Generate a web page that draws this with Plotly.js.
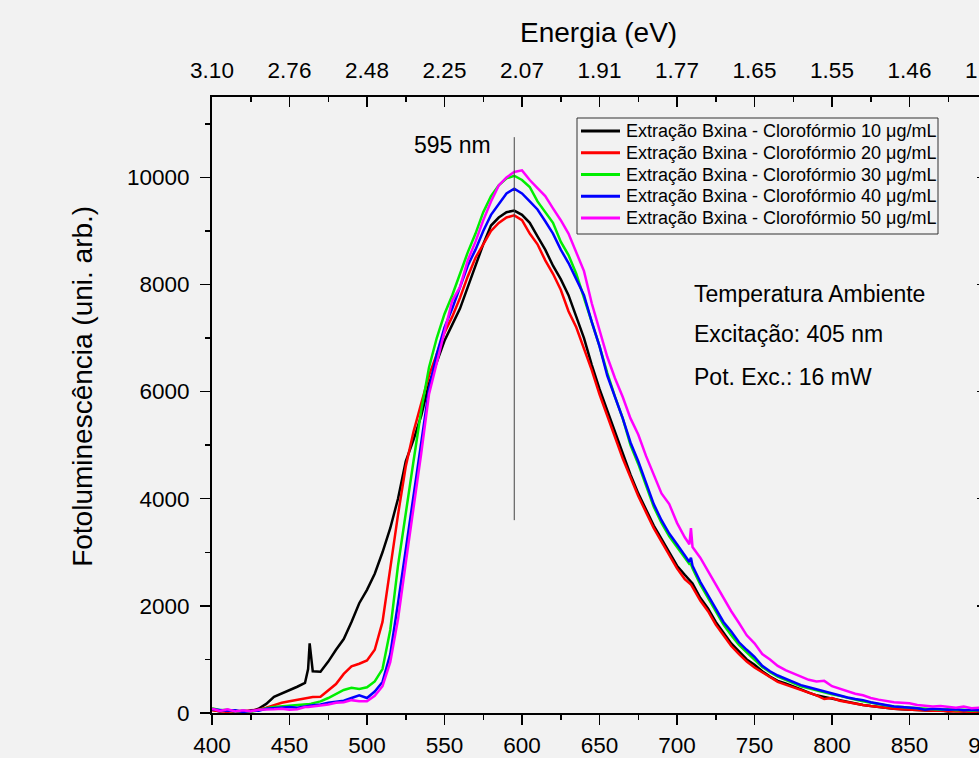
<!DOCTYPE html>
<html>
<head>
<meta charset="utf-8">
<script src="https://cdn.plot.ly/plotly-3.0.1.min.js"></script>
<style>
  html, body { margin: 0; padding: 0; background: #f2f2f2; overflow: hidden; }
  #chart { width: 1040px; height: 758px; }
</style>
</head>
<body>
<div id="chart"></div>
<script>
// Wavelength grid (nm), shared by all spectra
const wavelength = [
  400,405,410,415,420,425,430,435,440,445,450,455,460,462,463,464,465,
  470,475,480,485,490,495,500,505,510,515,520,525,530,535,540,545,550,
  555,560,565,570,575,580,585,590,595,600,605,610,615,620,625,630,635,
  640,645,650,655,660,665,670,675,680,685,690,695,700,705,708,709,710,
  715,720,725,730,735,740,745,750,755,760,765,770,775,780,785,790,795,
  800,805,810,815,820,825,830,835,840,845,850,855,860,865,870,875,880,
  885,890,895,900
];

// Photoluminescence intensity (arb. units) for each concentration
const pl10 = [
  60,30,50,20,40,30,80,170,300,360,430,490,560,820,1300,1050,780,
  770,960,1180,1380,1700,2050,2300,2600,3000,3450,4000,4700,5100,5550,6150,6550,6950,
  7250,7550,7950,8350,8750,9100,9250,9350,9380,9300,9150,8900,8650,8350,8100,7800,7400,
  7000,6500,6050,5650,5250,4850,4450,4100,3800,3500,3250,3000,2750,2580,2480,2460,2420,
  2150,1950,1700,1500,1300,1150,1000,900,780,680,600,550,500,440,380,330,300,
  270,230,200,170,150,130,110,100,80,70,60,60,50,40,50,30,40,
  30,40,20,30
];
const pl20 = [
  50,40,20,40,30,50,60,100,150,190,220,250,280,290,295,300,300,
  305,420,540,730,870,920,980,1180,1700,2700,3700,4600,5250,5780,6300,6700,7100,
  7400,7750,8150,8500,8750,9000,9150,9250,9290,9200,8950,8750,8450,8200,7900,7500,7200,
  6800,6400,5950,5550,5150,4750,4400,4050,3750,3450,3200,2950,2700,2500,2420,2400,2350,
  2100,1900,1650,1450,1250,1100,960,850,760,660,580,530,480,430,380,330,260,
  280,230,200,170,150,130,110,100,80,70,60,50,50,40,40,30,30,
  30,20,30,20
];
const pl30 = [
  90,50,60,30,40,20,50,90,110,120,130,140,160,165,170,175,180,
  217,280,360,430,470,450,480,590,820,1550,2750,3750,4700,5650,6450,7000,7450,
  7800,8200,8600,8950,9350,9650,9850,9980,10030,9950,9820,9550,9350,9150,8800,8550,8200,
  7750,7300,6850,6350,5900,5500,5000,4650,4250,3850,3550,3300,3100,2900,2780,2780,2700,
  2400,2150,1900,1650,1450,1270,1130,1000,860,760,680,620,560,500,460,420,390,
  350,320,280,250,220,190,160,140,120,110,90,90,80,70,60,70,50,
  60,40,50,40
];
const pl40 = [
  70,60,40,50,20,40,40,80,90,100,110,100,130,135,140,140,145,
  160,190,210,230,280,330,280,400,580,1100,2050,3050,4100,5100,6050,6700,7200,
  7550,7950,8350,8650,9000,9300,9500,9700,9790,9700,9550,9400,9180,8950,8650,8400,8100,
  7800,7300,6850,6300,5900,5500,5050,4700,4300,3900,3600,3350,3150,2950,2820,2900,2750,
  2450,2200,1950,1700,1520,1320,1180,1050,880,780,700,640,580,520,480,440,400,
  370,330,290,260,240,200,170,140,120,110,100,90,60,80,70,60,70,
  50,60,50,40
];
const pl50 = [
  80,40,70,30,50,30,60,60,70,80,60,70,110,110,115,120,120,
  140,160,190,200,240,220,220,320,500,950,1750,2800,3800,4850,5950,6550,7150,
  7700,7950,8450,8800,9200,9550,9850,10000,10100,10130,9950,9800,9650,9420,9200,8950,8600,
  8250,7650,7150,6650,6250,5900,5500,5200,4800,4450,4100,3900,3550,3280,3150,3450,3100,
  2900,2650,2400,2150,1900,1680,1450,1300,1100,1000,880,800,740,680,620,590,600,
  500,450,400,360,330,280,250,220,200,190,180,150,140,120,130,110,100,
  120,90,100,80
];

const seriesNames = [
  "Extração Bxina - Clorofórmio 10 μg/mL",
  "Extração Bxina - Clorofórmio 20 μg/mL",
  "Extração Bxina - Clorofórmio 30 μg/mL",
  "Extração Bxina - Clorofórmio 40 μg/mL",
  "Extração Bxina - Clorofórmio 50 μg/mL"
];
const seriesColors = ["#000000", "#ff0000", "#00ee00", "#0000ff", "#ff00ff"];

// Top axis: photon energy (eV) at the bottom-axis wavelength ticks
const nmTicks = [400,450,500,550,600,650,700,750,800,850,900];
const energyLabels = ["3.10","2.76","2.48","2.25","2.07","1.91","1.77","1.65","1.55","1.46","1.38"];

// Emission peak marker
const peakNm = [595, 595];
const peakMarkerRange = [3600, 10750];

const FONT = "Liberation Sans, Arial, Helvetica, sans-serif";
const allSeries = [pl10, pl20, pl30, pl40, pl50];

const traces = allSeries.map((ys, i) => ({
  type: "scatter",
  mode: "lines",
  x: wavelength,
  y: ys,
  name: seriesNames[i],
  line: { color: seriesColors[i], width: 2.5 },
  showlegend: false,
  xaxis: "x",
  yaxis: "y"
}));

traces.push({
  type: "scatter",
  mode: "lines",
  x: peakNm,
  y: peakMarkerRange,
  line: { color: "#444444", width: 1 },
  showlegend: false,
  hoverinfo: "skip",
  xaxis: "x2",
  yaxis: "y2"
});

const axisCommon = {
  showgrid: false,
  zeroline: false,
  showline: true,
  linecolor: "#000000",
  linewidth: 2,
  tickcolor: "#000000",
  tickwidth: 1.5,
  ticklen: 10,
  tickfont: { family: FONT, size: 22.5, color: "#000000" }
};

// Boxed legend drawn in paper coordinates (plot area: 775 x 616 px)
const PLOT_W = 775, PLOT_H = 616, PLOT_L = 212, PLOT_B = 713;
const px = (x) => (x - PLOT_L) / PLOT_W;
const py = (y) => (PLOT_B - y) / PLOT_H;

const legendShapes = [{
  type: "rect", xref: "paper", yref: "paper",
  x0: px(577), x1: px(938), y0: py(234), y1: py(118),
  line: { color: "#333333", width: 1 }, fillcolor: "#f2f2f2", layer: "above"
}];
const legendNotes = [];
seriesNames.forEach((name, i) => {
  const rowY = 131 + i * 21.75;
  legendShapes.push({
    type: "line", xref: "paper", yref: "paper",
    x0: px(581), x1: px(620), y0: py(rowY), y1: py(rowY),
    line: { color: seriesColors[i], width: 3 }, layer: "above"
  });
  legendNotes.push({
    text: name, xref: "paper", yref: "paper",
    x: px(624), y: py(rowY), xanchor: "left", yanchor: "middle",
    showarrow: false, font: { family: FONT, size: 18, color: "#000000" }
  });
});

const layout = {
  width: 1040,
  height: 758,
  margin: { l: 212, r: 53, t: 97, b: 45 },
  paper_bgcolor: "#f2f2f2",
  plot_bgcolor: "#f2f2f2",
  font: { family: FONT, color: "#000000" },
  showlegend: false,
  xaxis: Object.assign({}, axisCommon, {
    range: [400, 900],
    tickmode: "linear", tick0: 400, dtick: 50,
    ticks: "outside",
    ticklabelstandoff: 1,
    minor: { dtick: 25, tick0: 400, ticks: "outside", ticklen: 5, tickwidth: 1.5, tickcolor: "#000000" }
  }),
  yaxis: Object.assign({}, axisCommon, {
    range: [0, 11500],
    tickmode: "linear", tick0: 0, dtick: 2000,
    ticks: "outside",
    tickformat: "d",
    ticklabelstandoff: 6,
    minor: { dtick: 1000, tick0: 0, ticks: "outside", ticklen: 5, tickwidth: 1.5, tickcolor: "#000000" }
  }),
  xaxis2: Object.assign({}, axisCommon, {
    overlaying: "x",
    side: "top",
    range: [400, 900],
    tickmode: "array",
    tickvals: nmTicks,
    ticktext: energyLabels,
    ticks: "inside",
    ticklabelstandoff: 8,
    minor: { dtick: 25, tick0: 400, ticks: "inside", ticklen: 5, tickwidth: 1.5, tickcolor: "#000000" }
  }),
  yaxis2: Object.assign({}, axisCommon, {
    overlaying: "y",
    side: "right",
    range: [0, 11500],
    tickmode: "linear", tick0: 0, dtick: 2000,
    ticks: "inside",
    showticklabels: false,
    minor: { dtick: 1000, tick0: 0, ticks: "inside", ticklen: 5, tickwidth: 1.5, tickcolor: "#000000" }
  }),
  shapes: legendShapes,
  annotations: [
    {
      text: "Energia (eV)", xref: "paper", yref: "paper",
      x: 0.4987, y: 1.1055, xanchor: "center", yanchor: "middle",
      showarrow: false, font: { family: FONT, size: 28, color: "#000000" }
    },
    {
      text: "Fotoluminescência (uni. arb.)", xref: "paper", yref: "paper",
      x: -0.1665, y: 0.531, xanchor: "center", yanchor: "middle",
      textangle: -90,
      showarrow: false, font: { family: FONT, size: 28, color: "#000000" }
    },
    {
      text: "595 nm", xref: "paper", yref: "paper",
      x: 0.3626, y: 0.922, xanchor: "right", yanchor: "middle",
      showarrow: false, font: { family: FONT, size: 23, color: "#000000" }
    },
    {
      text: "Temperatura Ambiente", xref: "paper", yref: "paper",
      x: 0.619, y: 0.680, xanchor: "left", yanchor: "middle",
      showarrow: false, font: { family: FONT, size: 23, color: "#000000" }
    },
    {
      text: "Excitação: 405 nm", xref: "paper", yref: "paper",
      x: 0.619, y: 0.615, xanchor: "left", yanchor: "middle",
      showarrow: false, font: { family: FONT, size: 23, color: "#000000" }
    },
    {
      text: "Pot. Exc.: 16 mW", xref: "paper", yref: "paper",
      x: 0.619, y: 0.545, xanchor: "left", yanchor: "middle",
      showarrow: false, font: { family: FONT, size: 23, color: "#000000" }
    }
  ].concat(legendNotes)
};

Plotly.newPlot("chart", traces, layout, { displayModeBar: false, staticPlot: true });
</script>
</body>
</html>
